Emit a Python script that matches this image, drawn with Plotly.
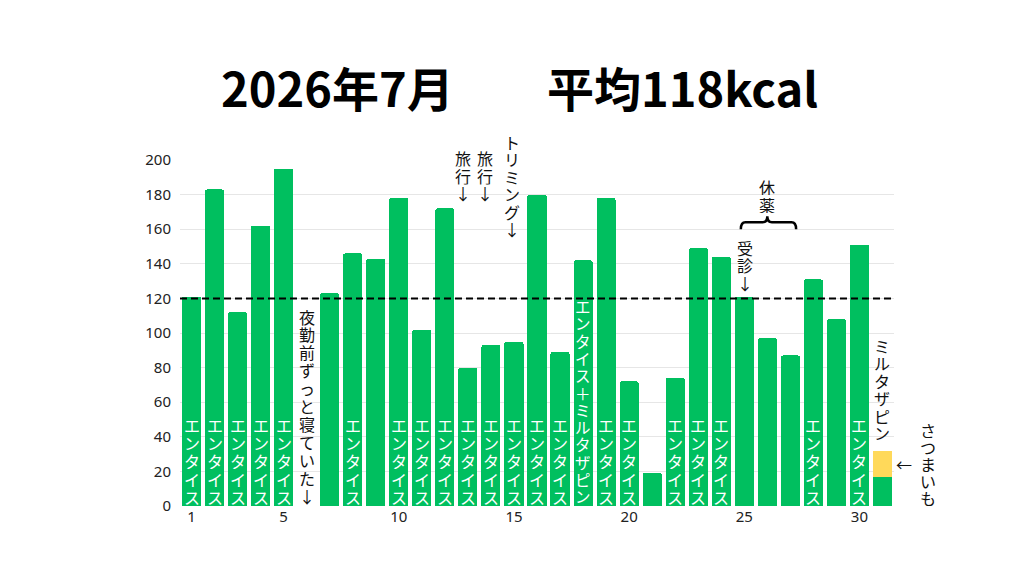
import plotly.graph_objects as go

# ─── Data ─────────────────────────────────────────────────────────────────────
DAYS = list(range(1, 32))
KCAL_FOOD = [121, 183, 112, 162, 195, 0, 123, 146, 143, 178,
             102, 172, 80, 93, 95, 180, 89, 142, 178, 72,
             19, 74, 149, 144, 121, 97, 87, 131, 108, 151,
             17]
KCAL_SNACK = [0, 0, 0, 0, 0, 0, 0, 0, 0, 0,
              0, 0, 0, 0, 0, 0, 0, 0, 0, 0,
              0, 0, 0, 0, 0, 0, 0, 0, 0, 0,
              15]
MED_LABELS = ["エンタイス", "エンタイス", "エンタイス", "エンタイス", "エンタイス",
              "", "", "エンタイス", "", "エンタイス",
              "エンタイス", "エンタイス", "エンタイス", "エンタイス", "エンタイス",
              "エンタイス", "エンタイス", "エンタイス＋ミルタザピン", "エンタイス", "エンタイス",
              "", "エンタイス", "エンタイス", "エンタイス", "",
              "", "", "エンタイス", "", "エンタイス",
              ""]
TARGET = 120
TITLE_MONTH = "2026年7月"
TITLE_AVG = "平均118kcal"
Y_TICKS = [0, 20, 40, 60, 80, 100, 120, 140, 160, 180, 200]
X_TICKS = [1, 5, 10, 15, 20, 25, 30]

NOTE_DAYS = [6, 13, 14, 15, 25, 31]
NOTE_TEXTS = ["夜勤前ずっと寝ていた↓", "旅行↓", "旅行↓", "トリミング↓", "受診↓", "ミルタザピン"]
BREAK_DAYS = (25, 27)
BREAK_TEXT = "休薬"
SNACK_TEXT = "さつまいも"

GREEN = "#00BF5F"
YELLOW = "#FFD95A"
FONT = "Noto Sans CJK JP"
INK = "#111111"

ann = []


def vtext(x, y, text, color=INK, size=16, pitch=18, dx=0, dy=0):
    """Fake vertical writing: one annotation per character, stacked upward from y."""
    n = len(text)
    for i, ch in enumerate(text):
        ann.append(dict(x=x, y=y, xref="x", yref="y", text=ch, showarrow=False,
                        xanchor="center", yanchor="middle",
                        height=pitch - 1, borderpad=0,
                        xshift=dx, yshift=dy + (n - 1 - i) * pitch + pitch / 2,
                        font=dict(color=color, size=size, family=FONT)))


fig = go.Figure()
fig.add_trace(go.Bar(x=DAYS, y=KCAL_FOOD, marker=dict(color=GREEN, line_width=0),
                     hoverinfo="skip", showlegend=False))
fig.add_trace(go.Bar(x=DAYS, y=KCAL_SNACK, marker=dict(color=YELLOW, line_width=0),
                     hoverinfo="skip", showlegend=False))

# medicine labels inside bars
for d, lab in zip(DAYS, MED_LABELS):
    if lab:
        if len(lab) > 6:
            vtext(d, 0, lab, color="white", size=15.5, pitch=17.3, dy=1)
        else:
            vtext(d, 0, lab, color="white", dy=1)

# notes: y (data) of each note's bottom edge; bar-top notes sit just above the bar
note_y = {6: 0, 13: 175, 14: 175, 15: 154, 25: 123}
note_dx = {13: -5, 14: -6, 15: -2, 25: 1}
for d, txt in zip(NOTE_DAYS, NOTE_TEXTS):
    y0 = note_y.get(d, KCAL_FOOD[d - 1] + KCAL_SNACK[d - 1] + 4)
    pitch = 17.9 if len(txt) > 8 else 17.5
    vtext(d, y0, txt, pitch=pitch, dx=note_dx.get(d, 0), dy=1)

# 休薬 bracket
b0, b1 = BREAK_DAYS
xc = (b0 + b1) / 2
xl, xr = b0 - 0.15, b1 + 0.25
vtext(xc, 169, BREAK_TEXT, size=16, pitch=18)
brace = (f"M {xl},160 Q {xl},164 {xl + 0.2},164 L {xc - 0.2},164 "
         f"Q {xc},164 {xc},167.5 Q {xc},164 {xc + 0.2},164 "
         f"L {xr - 0.2},164 Q {xr},164 {xr},160")

# snack note on last day
last = DAYS[-1]
ann.append(dict(x=last, y=KCAL_FOOD[-1] + KCAL_SNACK[-1] / 2, xref="x", yref="y",
                text="←", showarrow=False, xshift=22,
                font=dict(color=INK, size=16, family=FONT)))
vtext(last, 0, SNACK_TEXT, pitch=17, dx=46, dy=0)

# title (pixel rows converted to paper coordinates)
plot_top, plot_bot = 160, 506
title_y = (plot_bot - 87) / (plot_bot - plot_top)
ann.append(dict(x=0.221, y=title_y, xref="paper", yref="paper", text=f"<b>{TITLE_MONTH}</b>",
                showarrow=False, xanchor="center", yanchor="middle",
                font=dict(size=47, color="#000000", family=FONT)))
ann.append(dict(x=0.704, y=title_y, xref="paper", yref="paper", text=f"<b>{TITLE_AVG}</b>",
                showarrow=False, xanchor="center", yanchor="middle",
                font=dict(size=47, color="#000000", family=FONT)))

fig.update_layout(
    width=1024, height=576,
    barmode="stack", bargap=0.17,
    barcornerradius=2,
    plot_bgcolor="white", paper_bgcolor="white",
    # page body adds an 8px offset, so margins are shifted to compensate
    margin=dict(l=172, r=138, t=152, b=78),
    font=dict(family="Noto Sans", size=15, color="#222222"),
    annotations=ann,
    shapes=[
        dict(type="line", xref="paper", yref="y", x0=0, x1=1, y0=TARGET, y1=TARGET,
             line=dict(color="black", width=2, dash="7px,4px"), layer="above"),
        dict(type="path", xref="x", yref="y", path=brace,
             line=dict(color="black", width=2.5)),
    ],
    xaxis=dict(range=[0.5, 31.5], tickmode="array", tickvals=X_TICKS,
               showgrid=False, zeroline=False, showline=False, ticks=""),
    yaxis=dict(range=[0, 200], tickmode="array", tickvals=Y_TICKS,
               showgrid=True, gridcolor="#e6e6e6", gridwidth=1,
               zeroline=False, showline=False, ticks="", ticklabelstandoff=8),
    showlegend=False,
)

fig.write_html("out.html")
